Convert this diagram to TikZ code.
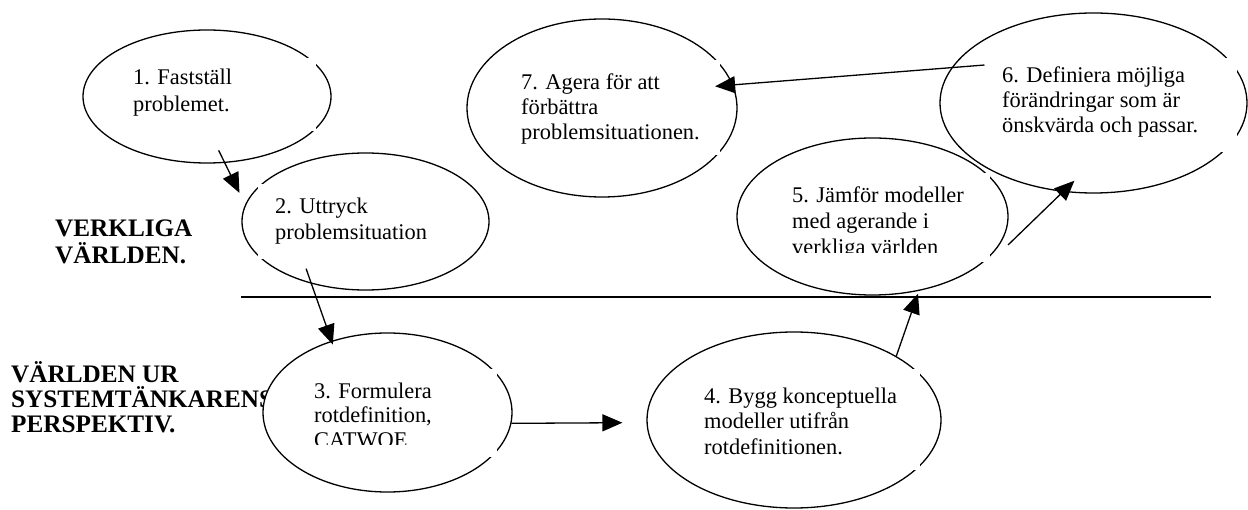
\documentclass[tikz,border=0pt]{standalone}
\usepackage{fontspec}
\setmainfont{Liberation Serif}
\usetikzlibrary{arrows.meta,shapes.geometric}

\tikzset{
  oval/.style={ellipse, draw, fill=white, line width=1.3pt, inner sep=0pt},
  tbox/.style={rectangle, fill=white, inner sep=0pt, anchor=north west},
  otext/.style={anchor=base west, align=left, inner sep=0pt},
  lbl/.style={anchor=base west, align=left, inner sep=0pt},
  arr/.style={-{Triangle[length=20pt,width=17pt]}, line width=1.3pt},
  divider/.style={line width=1.3pt},
}

\begin{document}
\begin{tikzpicture}[x=1pt,y=-1pt]
\useasboundingbox (0,0) rectangle (1248,510);
\fill[white] (0,0) rectangle (1248,510);

% side labels (positions are the baselines of the last lines)
\node[lbl, font=\fontsize{25.2}{27}\selectfont\bfseries] (lreal) at (55,264) {VERKLIGA\\VÄRLDEN.};
\node[lbl, font=\fontsize{25.2}{25.5}\selectfont\bfseries] (lsys) at (11,433) {VÄRLDEN UR\\SYSTEMTÄNKARENS\\PERSPEKTIV.};

% divider line
\coordinate (hl1) at (241,297);
\coordinate (hl2) at (1211,297);
\draw[divider] (hl1) -- (hl2);

% 1
\node[oval, minimum width=248pt, minimum height=133pt] (e1) at (207,96.5) {};
\node[tbox, minimum width=200pt, minimum height=73pt] (b1) at (116,58) {};
\begin{scope}
\clip ([yshift=-5pt]b1.north west) rectangle ([yshift=9pt]b1.south east);
\node[otext, font=\fontsize{22.4}{27}\selectfont] (t1) at (133,112) {1. Fastställ\\problemet.};
\end{scope}

% 2
\node[oval, minimum width=247pt, minimum height=137pt] (e2) at (365.5,221.5) {};
\node[tbox, minimum width=202pt, minimum height=75pt] (b2) at (258,184) {};
\begin{scope}
\clip ([yshift=-5pt]b2.north west) rectangle ([yshift=9pt]b2.south east);
\node[otext, font=\fontsize{22.4}{26}\selectfont] (t2) at (275,240) {2. Uttryck\\problemsituation};
\end{scope}

% 3
\node[oval, minimum width=249pt, minimum height=159pt] (e3) at (387.5,412.5) {};
\node[tbox, minimum width=200pt, minimum height=88pt] (b3) at (297,369) {};
\begin{scope}
\clip ([yshift=-5pt]b3.north west) rectangle ([yshift=13pt]b3.south east);
\node[otext, font=\fontsize{22.4}{25}\selectfont] (t3) at (314,448) {3. Formulera\\rotdefinition,\\CATWOE};
\end{scope}

% 4
\node[oval, minimum width=294pt, minimum height=176pt] (e4) at (794,420) {};
\node[tbox, minimum width=233pt, minimum height=101pt] (b4) at (687,369) {};
\begin{scope}
\clip ([yshift=-5pt]b4.north west) rectangle ([yshift=9pt]b4.south east);
\node[otext, font=\fontsize{22.4}{25.5}\selectfont] (t4) at (704,454) {4. Bygg konceptuella\\modeller utifrån\\rotdefinitionen.};
\end{scope}

% 5
\node[oval, minimum width=271pt, minimum height=157pt] (e5) at (872.5,216.5) {};
\node[tbox, minimum width=215pt, minimum height=89pt] (b5) at (775,173) {};
\begin{scope}
\clip ([yshift=-5pt]b5.north west) rectangle ([yshift=10pt]b5.south east);
\node[otext, font=\fontsize{22.4}{26}\selectfont] (t5) at (792,255) {5. Jämför modeller\\med agerande i\\verkliga världen};
\end{scope}

% 6
\node[oval, minimum width=307pt, minimum height=180pt] (e6) at (1093.5,103) {};
\node[tbox, minimum width=252pt, minimum height=94pt] (b6) at (985,58) {};
\begin{scope}
\clip ([yshift=-4pt]b6.north west) rectangle ([yshift=9pt]b6.south east);
\node[otext, font=\fontsize{22.4}{25}\selectfont] (t6) at (1002,133) {6. Definiera möjliga\\förändringar som är\\önskvärda och passar.};
\end{scope}

% 7
\node[oval, minimum width=270pt, minimum height=178pt] (e7) at (602,108) {};
\node[tbox, minimum width=216pt, minimum height=95pt] (b7) at (504,60) {};
\begin{scope}
\clip ([yshift=-4pt]b7.north west) rectangle ([yshift=4pt]b7.south east);
\node[otext, font=\fontsize{22.4}{25}\selectfont] (t7) at (521,140) {7. Agera för att\\förbättra\\problemsituationen.};
\end{scope}

% connectors
\coordinate (s56) at (1008,245);
\draw[arr, shorten <=-14pt, shorten >=13pt] (e1.285) -- (e2.172);
\draw[arr, shorten <=-16pt, shorten >=-4pt] (e2.229) -- (e3.128);
\draw[arr, shorten >=24pt] (e3.355) -- (e4.181);
\draw[arr, shorten >=3pt] (e4.32) -- (e5.302);
\draw[arr, shorten >=-16pt] (s56) -- (e6.251);
\draw[arr, shorten <=-33pt, shorten >=-18pt] (e6.166) -- (e7.10);
\end{tikzpicture}
\end{document}
